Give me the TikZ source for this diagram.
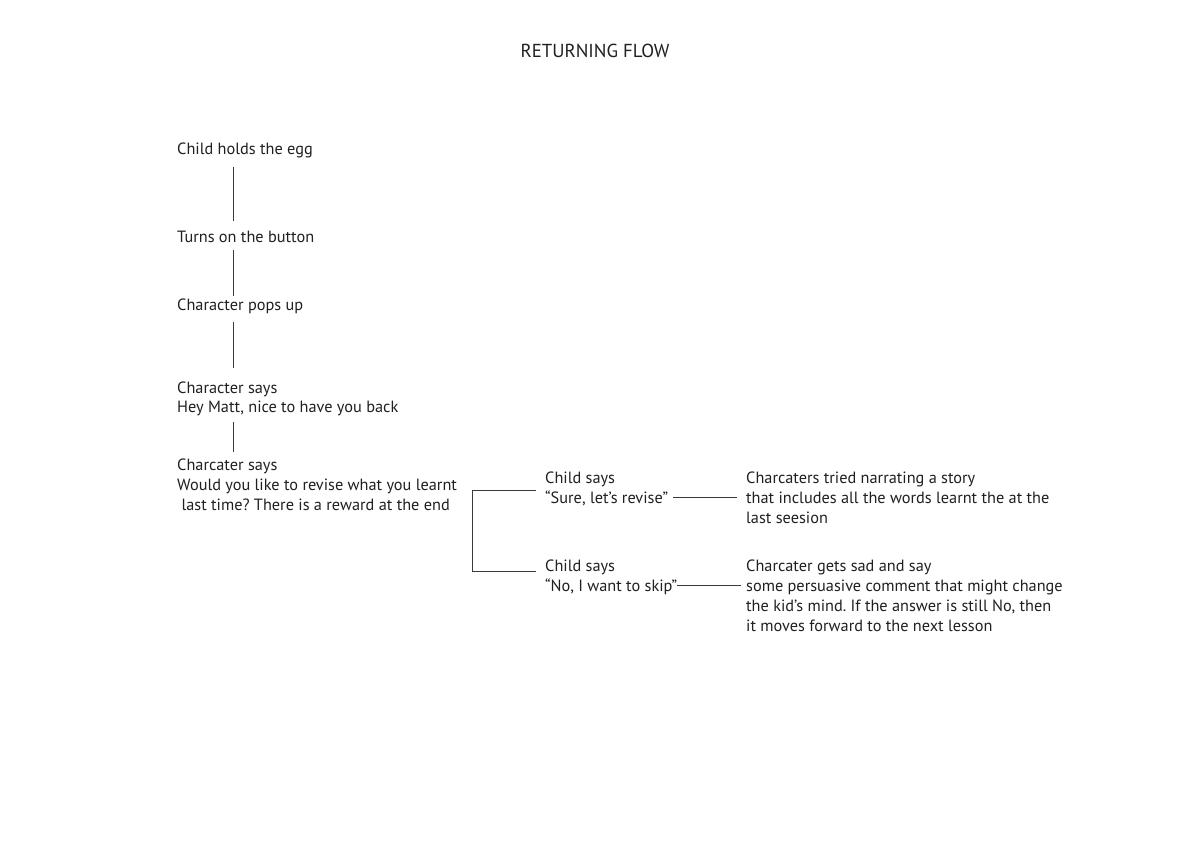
\documentclass[tikz,border=0pt]{standalone}
\usepackage{fontspec}
\setmainfont{PT Sans}
\usetikzlibrary{calc}
\definecolor{ink}{HTML}{231F20}
\definecolor{rule}{HTML}{3A3A3A}
\frenchspacing
\begin{document}
\begin{tikzpicture}[x=1pt,y=-1pt,
  txt/.style={inner sep=0pt,anchor=base west,align=left,font=\fontsize{16.3}{20}\selectfont\frenchspacing,text=ink},
  ttl/.style={inner sep=0pt,anchor=base,font=\fontsize{18.8}{20}\selectfont,text=ink},
  conn/.style={draw=rule,line width=0.9pt}]
\useasboundingbox[fill=white] (0,0) rectangle (1192,842);
\node[ttl] (title) at (595,58) {RETURNING FLOW};
\node[txt] (n1) at (177,155) {Child holds the egg};
\node[txt] (n2) at (177,243) {Turns on the button};
\node[txt] (n3) at (177,311) {Character pops up};
\node[txt] (n4) at (177,413) {Character says\\Hey Matt, nice to have you back};
\node[txt] (n5) at (177,510) {Charcater says\\Would you like to revise what you learnt\\\ last time? There is a reward at the end};
\node[txt] (y1) at (545,503) {Child says\\“Sure, let’s revise”};
\node[txt] (y2) at (746,523) {Charcaters tried narrating a story\\that includes all the words learnt the at the\\last seesion};
\node[txt] (s1) at (545,591) {Child says\\“No, I want to skip”};
\node[txt] (s2) at (746,631) {Charcater gets sad and say\\some persuasive comment that might change\\the kid’s mind. If the answer is still No, then\\it moves forward to the next lesson};
% vertical connectors
\draw[conn] ($(n1.base west)+(56,12)$) -- ($(n2.base west)+(56,-22)$);
\draw[conn] ($(n2.base west)+(56,7)$) -- ($(n3.base west)+(56,-15)$);
\draw[conn] ($(n3.base west)+(56,11)$) -- ($(n4.base west)+(56,-45)$);
\draw[conn] ($(n4.base west)+(56,9)$) -- ($(n5.base west)+(56,-58)$);
% branch bracket
\draw[conn] ($(y1.base west)+(-9,-13)$) -- ++(-64,0) |- ($(s1.base west)+(-9,-20)$);
% horizontal connectors
\draw[conn] ($(y1.base west)+(128,-6)$) -- ($(y2.base west)+(-9,-26)$);
\draw[conn] ($(s1.base west)+(132,-6)$) -- ($(s2.base west)+(-5,-46)$);
\end{tikzpicture}
\end{document}
